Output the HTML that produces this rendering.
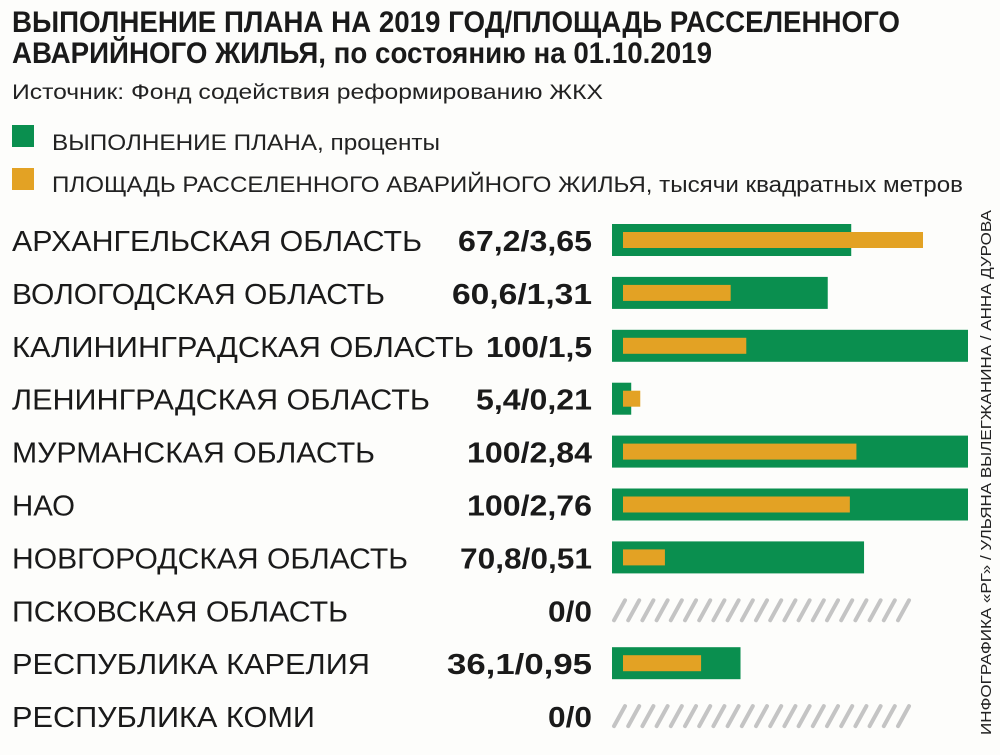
<!DOCTYPE html>
<html><head><meta charset="utf-8"><style>
html,body{margin:0;padding:0;background:#fdfdfb;}
svg{display:block;font-family:"Liberation Sans Narrow","Liberation Sans",sans-serif;}
</style></head><body>
<svg id="chart" width="1000" height="755" viewBox="0 0 1000 755" xmlns="http://www.w3.org/2000/svg">
<rect width="1000" height="755" fill="#fdfdfb"/>
<text x="12" y="32" font-size="30" font-weight="bold" fill="#1a1a1a" textLength="888" lengthAdjust="spacingAndGlyphs">ВЫПОЛНЕНИЕ ПЛАНА НА 2019 ГОД/ПЛОЩАДЬ РАССЕЛЕННОГО</text>
<text x="12" y="63" font-size="30" font-weight="bold" fill="#1a1a1a" textLength="700" lengthAdjust="spacingAndGlyphs">АВАРИЙНОГО ЖИЛЬЯ, по состоянию на 01.10.2019</text>
<text x="12" y="99" font-size="21" fill="#222" textLength="591" lengthAdjust="spacingAndGlyphs">Источник: Фонд содействия реформированию ЖКХ</text>
<rect x="12" y="125" width="22" height="22" fill="#0a8f4f"/>
<text x="52" y="150" font-size="22" fill="#222" textLength="388" lengthAdjust="spacingAndGlyphs">ВЫПОЛНЕНИЕ ПЛАНА, проценты</text>
<rect x="12" y="168" width="22" height="22" fill="#e3a224"/>
<text x="52" y="192" font-size="22" fill="#222" textLength="911" lengthAdjust="spacingAndGlyphs">ПЛОЩАДЬ РАССЕЛЕННОГО АВАРИЙНОГО ЖИЛЬЯ, тысячи квадратных метров</text>
<text transform="translate(991,735) rotate(-90)" font-size="15" fill="#222" textLength="525" lengthAdjust="spacingAndGlyphs">ИНФОГРАФИКА «РГ» / УЛЬЯНА ВЫЛЕГЖАНИНА / АННА ДУРОВА</text>
<g id="rows"></g>
</svg>
<script>
const regions=["АРХАНГЕЛЬСКАЯ ОБЛАСТЬ","ВОЛОГОДСКАЯ ОБЛАСТЬ","КАЛИНИНГРАДСКАЯ ОБЛАСТЬ","ЛЕНИНГРАДСКАЯ ОБЛАСТЬ","МУРМАНСКАЯ ОБЛАСТЬ","НАО","НОВГОРОДСКАЯ ОБЛАСТЬ","ПСКОВСКАЯ ОБЛАСТЬ","РЕСПУБЛИКА КАРЕЛИЯ","РЕСПУБЛИКА КОМИ"];
const planPct=[67.2,60.6,100,5.4,100,100,70.8,0,36.1,0];
const areaK=[3.65,1.31,1.5,0.21,2.84,2.76,0.51,0,0.95,0];
const valueLabels=["67,2/3,65","60,6/1,31","100/1,5","5,4/0,21","100/2,84","100/2,76","70,8/0,51","0/0","36,1/0,95","0/0"];
const labelW=[410,373,462,418,363,63,396,336,358,303];
const valW=[134,140,106,116,125,125,132,44,145,44];
const NS="http://www.w3.org/2000/svg";
const g=document.getElementById('rows');
const x0=612,pctW=356,ax0=623,areaScale=300/3.65;
function xPct(v){return x0+v/100*pctW;}
function xArea(v){return ax0+v*areaScale;}
function yRow(i){return 240+i*52.9;}
function mk(t,a){const e=document.createElementNS(NS,t);for(const k in a)e.setAttribute(k,a[k]);g.appendChild(e);return e;}
regions.forEach((r,i)=>{
  const cy=yRow(i);
  const l=mk('text',{x:12,y:cy+11,'font-size':29,fill:'#1a1a1a',textLength:labelW[i],lengthAdjust:'spacingAndGlyphs'});
  l.textContent=r;
  
  
  const v=mk('text',{x:592,y:cy+11,'font-size':29,'font-weight':'bold',fill:'#1a1a1a','text-anchor':'end',textLength:valW[i],lengthAdjust:'spacingAndGlyphs'});
  v.textContent=valueLabels[i];
  
  
  if(planPct[i]===0&&areaK[i]===0){
    for(let s=0;s<21;s++){
      const hx=614+s*14.2;
      const h=mk('line',{x1:hx,y1:cy+10,x2:hx+11,y2:cy-10,stroke:'#c4c4c4','stroke-width':4,'stroke-linecap':'round'});
      
      
    }
  } else {
    const b=mk('rect',{x:x0,y:cy-16,width:xPct(planPct[i])-x0,height:32,fill:'#0a8f4f'});
    
    
    const a=mk('rect',{x:ax0,y:cy-8,width:xArea(areaK[i])-ax0,height:16,fill:'#e3a224'});
    
    
  }
});
</script>
</body></html>
